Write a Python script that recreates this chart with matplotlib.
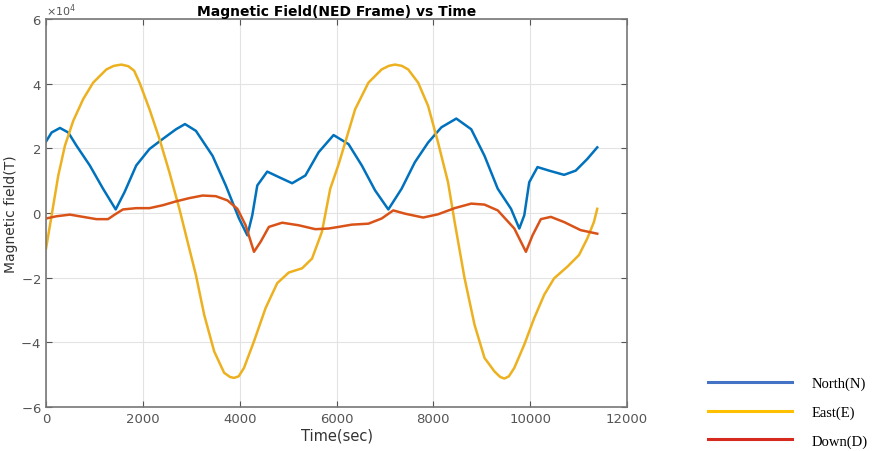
import matplotlib
matplotlib.use("Agg")
import matplotlib.pyplot as plt
from matplotlib.lines import Line2D
from matplotlib.ticker import ScalarFormatter
import numpy as np

plt.rcParams["axes.unicode_minus"] = False

# values, field in units of 1e4
t_north = [0, 116, 288, 459, 630, 904, 1178, 1439, 1623, 1863, 2137, 2411, 2685, 2870,
           3096, 3439, 3713, 3986, 4158, 4260, 4363, 4569, 4809, 5083, 5357, 5631, 5939,
           6248, 6522, 6796, 7070, 7344, 7618, 7892, 8166, 8474, 8782, 9056, 9330, 9604,
           9775, 9878, 9980, 10151, 10391, 10700, 10940, 11179, 11385]
north = [2.21, 2.49, 2.63, 2.49, 2.08, 1.47, 0.75, 0.11, 0.65, 1.47, 1.98, 2.29, 2.59, 2.75,
         2.54, 1.77, 0.85, -0.17, -0.69, -0.07, 0.85, 1.28, 1.11, 0.92, 1.16, 1.88, 2.41,
         2.13, 1.47, 0.70, 0.11, 0.75, 1.57, 2.18, 2.65, 2.92, 2.59, 1.77, 0.75, 0.13,
         -0.48, -0.07, 0.95, 1.42, 1.31, 1.18, 1.31, 1.67, 2.03]

t_east = [0, 116, 253, 390, 562, 767, 973, 1247, 1400, 1555, 1700, 1820, 1932, 2137, 2343,
          2548, 2754, 2959, 3096, 3267, 3473, 3678, 3800, 3884, 3980, 4089, 4295, 4535,
          4775, 5014, 5289, 5494, 5699, 5870, 6042, 6179, 6385, 6659, 6932, 7080, 7207,
          7350, 7480, 7686, 7892, 8097, 8303, 8440, 8645, 8851, 9056, 9262, 9380, 9467,
          9560, 9672, 9878, 10083, 10289, 10494, 10768, 11008, 11179, 11316, 11385]
east = [-1.10, -0.07, 1.16, 2.08, 2.85, 3.52, 4.03, 4.44, 4.55, 4.59, 4.54, 4.40, 4.03, 3.21,
        2.29, 1.26, 0.13, -1.10, -1.92, -3.15, -4.28, -4.94, -5.07, -5.10, -5.05, -4.79,
        -3.97, -2.94, -2.17, -1.84, -1.71, -1.41, -0.58, 0.75, 1.50, 2.18, 3.21, 4.03, 4.44,
        4.55, 4.59, 4.55, 4.44, 4.03, 3.31, 2.18, 0.95, -0.28, -2.02, -3.46, -4.48, -4.90,
        -5.07, -5.12, -5.05, -4.79, -4.07, -3.25, -2.53, -2.02, -1.66, -1.30, -0.79, -0.28,
        0.13]

t_down = [0, 219, 493, 767, 1041, 1281, 1418, 1589, 1863, 2137, 2411, 2685, 2959, 3233,
          3507, 3747, 3952, 4123, 4295, 4432, 4603, 4877, 5220, 5562, 5836, 6042, 6316,
          6659, 6932, 7172, 7412, 7789, 8097, 8440, 8782, 9056, 9330, 9672, 9912, 10049,
          10220, 10426, 10700, 11042, 11385]
down = [-0.17, -0.10, -0.05, -0.12, -0.19, -0.19, -0.05, 0.11, 0.15, 0.15, 0.24, 0.36, 0.46,
        0.54, 0.52, 0.39, 0.13, -0.38, -1.20, -0.89, -0.43, -0.30, -0.38, -0.50, -0.48,
        -0.43, -0.36, -0.33, -0.17, 0.08, -0.02, -0.14, -0.04, 0.15, 0.29, 0.26, 0.08,
        -0.48, -1.20, -0.69, -0.19, -0.12, -0.28, -0.53, -0.64]

labels = ["North(N)", "East(E)", "Down(D)"]

fig = plt.figure(figsize=(8.75, 4.52), dpi=100)
ax = fig.add_axes([0.0526, 0.0973, 0.664, 0.8585])

ax.plot(t_north, np.array(north) * 1e4, color="#0072BD", lw=1.8, solid_joinstyle="round")
ax.plot(t_east, np.array(east) * 1e4, color="#EDB120", lw=1.8, solid_joinstyle="round")
ax.plot(t_down, np.array(down) * 1e4, color="#D95319", lw=1.8, solid_joinstyle="round")

ax.set_xlim(0, 12000)
ax.set_ylim(-6e4, 6e4)
ax.set_xticks(np.arange(0, 12001, 2000))
ax.set_yticks(np.arange(-6e4, 6.1e4, 2e4))
fmt = ScalarFormatter(useMathText=True)
fmt.set_powerlimits((0, 0))
ax.yaxis.set_major_formatter(fmt)
ax.yaxis.get_offset_text().set_fontsize(8)
ax.yaxis.get_offset_text().set_color("#444444")

ax.grid(True, color="#e3e3e3", lw=0.8)
ax.tick_params(direction="in", top=True, right=True, labelsize=9.5,
               colors="#555555", length=4)
for s in ax.spines.values():
    s.set_color("#777777")
    s.set_linewidth(1.2)

ax.set_title("Magnetic Field(NED Frame) vs Time", fontsize=10, fontweight="bold", pad=3)
ax.set_xlabel("Time(sec)", fontsize=10.5, color="#333333", labelpad=2)
ax.set_ylabel("Magnetic field(T)", fontsize=10, color="#333333", labelpad=2)

# separate legend at the lower right
handles = [Line2D([], [], color=c, lw=2.2) for c in ["#4472C4", "#FFC000", "#D62A1E"]]
fig.legend(handles, labels, loc="center left", bbox_to_anchor=(0.794, 0.086),
           frameon=False, handlelength=5.8, handletextpad=1.3, labelspacing=1.05,
           prop={"family": "Liberation Serif", "size": 10.5})

fig.savefig("out.png", dpi=100)
